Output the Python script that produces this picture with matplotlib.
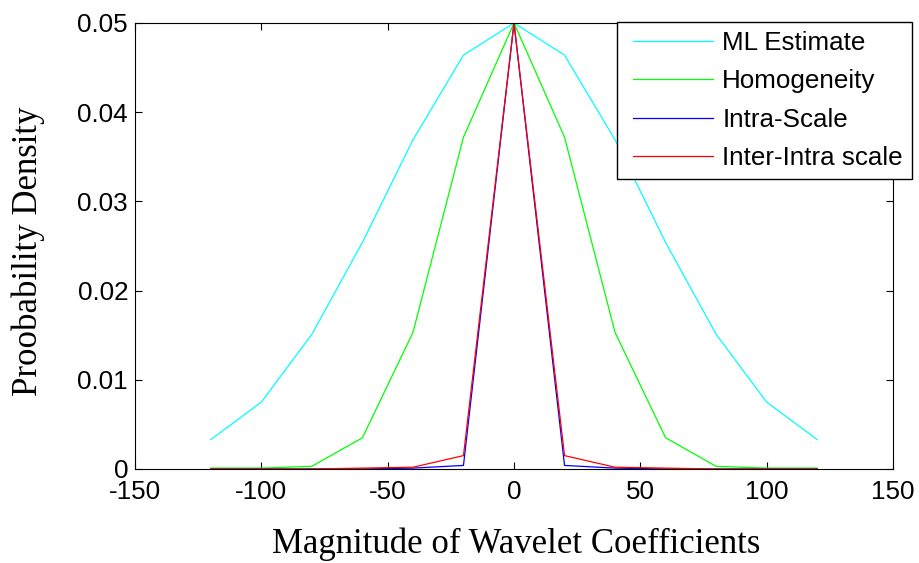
import matplotlib
matplotlib.use("Agg")
import matplotlib.pyplot as plt
from matplotlib.legend_handler import HandlerLine2D
from matplotlib.lines import Line2D

x = [-120, -100, -80, -60, -40, -20, 0, 20, 40, 60, 80, 100, 120]
ml_estimate = [0.0033, 0.0075, 0.0151, 0.0254, 0.0369, 0.0464, 0.0500,
               0.0464, 0.0369, 0.0254, 0.0151, 0.0075, 0.0033]
homogeneity = [0.0001, 0.0001, 0.0003, 0.0035, 0.0153, 0.0372, 0.0500,
               0.0372, 0.0153, 0.0035, 0.0003, 0.0001, 0.0001]
intra_scale = [0.0, 0.0, 0.0, 0.0, 0.0001, 0.0004, 0.0500,
               0.0004, 0.0001, 0.0, 0.0, 0.0, 0.0]
inter_intra = [0.0, 0.0, 0.0, 0.0001, 0.0002, 0.0015, 0.0500,
               0.0015, 0.0002, 0.0001, 0.0, 0.0, 0.0]

labels = ["ML Estimate", "Homogeneity", "Intra-Scale", "Inter-Intra scale"]
xticks = [-150, -100, -50, 0, 50, 100, 150]
yticks = [0, 0.01, 0.02, 0.03, 0.04, 0.05]
ytick_labels = ["0", "0.01", "0.02", "0.03", "0.04", "0.05"]

W, H = 920, 563
L, R, T, B = 135, 893, 23, 469
fig = plt.figure(figsize=(W/100, H/100), dpi=100)
ax = fig.add_axes([L/W, 1-B/H, (R-L)/W, (B-T)/H])

lw = 0.9
ax.plot(x, ml_estimate, color=(0, 1, 1), lw=lw, label=labels[0])
ax.plot(x, homogeneity, color=(0, 1, 0), lw=lw, label=labels[1])
ax.plot(x, intra_scale, color=(0, 0, 1), lw=lw, label=labels[2])
ax.plot(x, inter_intra, color=(1, 0, 0), lw=lw, label=labels[3])

ax.set_xlim(-150, 150)
ax.set_ylim(0, 0.05)
ax.set_xticks(xticks)
ax.set_xticklabels([str(v) for v in xticks])
ax.set_yticks(yticks)
ax.set_yticklabels(ytick_labels)

fs = 18.7
for lab in ax.get_xticklabels() + ax.get_yticklabels():
    lab.set_fontfamily("Liberation Sans")
    lab.set_fontsize(fs)

ax.tick_params(direction="in", length=5, width=0.8, top=True, right=True)
ax.tick_params(axis="x", pad=8)
ax.tick_params(axis="y", pad=5)
for s in ax.spines.values():
    s.set_linewidth(0.8)

ax.set_xlabel("Magnitude of Wavelet Coefficients", family="Liberation Serif",
              fontsize=25)
ax.xaxis.set_label_coords(0.503, -(553-B)/(B-T))
ax.xaxis.label.set_va("baseline")

ax.set_ylabel("Proobability Density", family="Liberation Serif",
              fontsize=25)
ax.yaxis.set_label_coords((28-L)/(R-L), (B-251)/(B-T))
ax.yaxis.label.set_va("center")

leg = ax.legend(loc="upper right", bbox_to_anchor=(912/W, 1-22/H),
                bbox_transform=fig.transFigure, fancybox=False,
                edgecolor="black", framealpha=1, handlelength=3.35,
                handler_map={Line2D: HandlerLine2D(xpad=0.25)},
                prop={"family": "Liberation Sans", "size": fs},
                borderpad=0.35, labelspacing=0.55, handletextpad=0.35,
                borderaxespad=0)
leg.get_frame().set_linewidth(1.0)

fig.savefig("out.png", dpi=100)
